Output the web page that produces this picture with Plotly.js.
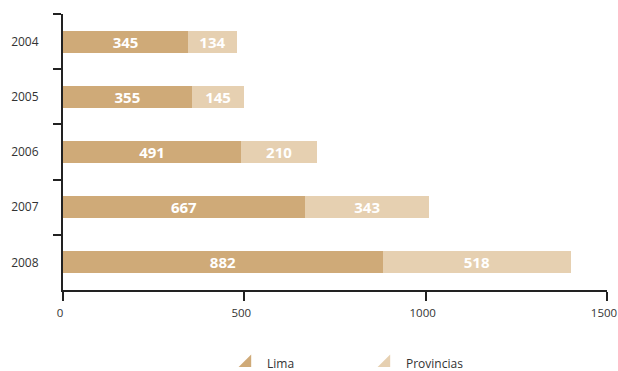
<!DOCTYPE html>
<html>
<head>
<meta charset="utf-8">
<script src="https://cdn.plot.ly/plotly-3.0.1.min.js"></script>
<style>html,body{margin:0;padding:0;background:#fff;}#chart{width:618px;height:371px;}</style>
</head>
<body>
<div id="chart"></div>
<script>
const years = ['2004', '2005', '2006', '2007', '2008'];
const lima = [345, 355, 491, 667, 882];
const provincias = [134, 145, 210, 343, 518];
const seriesNames = ['Lima', 'Provincias'];
const xTicks = [0, 500, 1000, 1500];

const colLima = '#CFAA78';
const colProv = '#E6D0B1';
const labelFont = {family: 'Open Sans, sans-serif', size: 15, color: '#ffffff', weight: 'bold'};

const traces = [
  {type: 'bar', orientation: 'h', y: years, x: lima, name: seriesNames[0],
   marker: {color: colLima}, text: lima.map(String), textposition: 'inside',
   insidetextanchor: 'middle', constraintext: 'none', textfont: labelFont,
   showlegend: false, hoverinfo: 'none'},
  {type: 'bar', orientation: 'h', y: years, x: provincias, name: seriesNames[1],
   marker: {color: colProv}, text: provincias.map(String), textposition: 'inside',
   insidetextanchor: 'middle', constraintext: 'none', textfont: labelFont,
   showlegend: false, hoverinfo: 'none'},
  {type: 'scatter', mode: 'markers', x: [null], y: [null], name: seriesNames[0],
   marker: {symbol: 'triangle-se', size: 14, color: colLima}, showlegend: true, legend: 'legend'},
  {type: 'scatter', mode: 'markers', x: [null], y: [null], name: seriesNames[1],
   marker: {symbol: 'triangle-se', size: 14, color: colProv}, showlegend: true, legend: 'legend2'}
];

const legendBase = {orientation: 'h', xref: 'container', xanchor: 'left',
  yref: 'container', y: 0.022, yanchor: 'middle', bgcolor: 'rgba(0,0,0,0)',
  font: {size: 12, color: '#333'}, itemwidth: 30};

const layout = {
  width: 618, height: 371,
  margin: {l: 63, r: 11, t: 14, b: 81},
  paper_bgcolor: '#fff', plot_bgcolor: '#fff',
  barmode: 'stack', bargap: 0.6,
  font: {family: 'Open Sans, sans-serif', size: 12, color: '#333'},
  xaxis: {range: [0, 1500], tickvals: xTicks, ticktext: xTicks.map(String),
    showgrid: false, zeroline: false, showline: true, linecolor: '#222', linewidth: 2,
    ticks: 'outside', ticklen: 9, tickwidth: 2, tickcolor: '#222',
    ticklabeloverflow: 'allow', ticklabelshift: -3, ticklabelstandoff: 2, automargin: false,
    tickfont: {size: 11.5, color: '#333'}, fixedrange: true},
  yaxis: {type: 'category', categoryorder: 'array', categoryarray: years,
    range: [4.5, -0.5], showgrid: false, zeroline: false, showline: true,
    linecolor: '#222', linewidth: 2, ticks: 'outside', tickson: 'boundaries',
    ticklen: 8, tickwidth: 2, tickcolor: '#222', ticklabelstandoff: 20,
    automargin: false, tickfont: {size: 12, color: '#333'}, fixedrange: true},
  showlegend: true,
  legend: Object.assign({}, legendBase, {x: 227 / 618}),
  legend2: Object.assign({}, legendBase, {x: 366 / 618})
};

Plotly.newPlot('chart', traces, layout, {displayModeBar: false, staticPlot: true});
</script>
</body>
</html>
